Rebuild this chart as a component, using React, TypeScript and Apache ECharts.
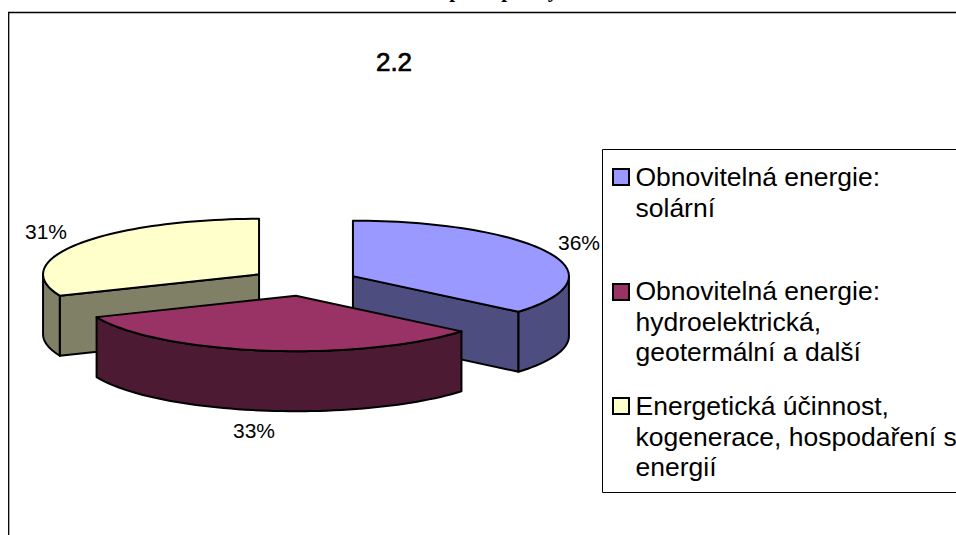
import React, { useEffect, useRef } from "react";
import * as echarts from "echarts";

const categories = [
  "Obnovitelná energie:\nsolární",
  "Obnovitelná energie:\nhydroelektrická,\ngeotermální a další",
  "Energetická účinnost,\nkogenerace, hospodaření s\nenergií",
];
const values = [36.1, 32.6, 31.3];
const topColors = ["#9999FF", "#993366", "#FFFFCC"];
const sideColors = ["#4D4D80", "#4D1A33", "#808066"];
const drawOrder = [1, 3, 2];
const labelPositions = [
  [579, 242],
  [254, 430],
  [46, 231],
];
const chartTitle = "2.2";
const clippedGlyphs = ["p", "p", "y"];
const clippedGlyphX = [455, 507, 553];

const FONT = "'Liberation Sans', Arial, sans-serif";
const CX = 304;
const CY = 282;
const RX = 216;
const RY = 55.5;
const DEPTH = 60;
const EXPLODE = 0.25;

function pt(cx: number, cy: number, deg: number): [number, number] {
  const r = (deg * Math.PI) / 180;
  return [cx + RX * Math.sin(r), cy - RY * Math.cos(r)];
}

function arcPath(cx: number, cy: number, a0: number, a1: number, reverse = false) {
  const steps = Math.max(2, Math.ceil(Math.abs(a1 - a0) / 2));
  const pts: [number, number][] = [];
  for (let i = 0; i <= steps; i++) pts.push(pt(cx, cy, a0 + ((a1 - a0) * i) / steps));
  if (reverse) pts.reverse();
  return pts;
}

function toD(pts: [number, number][]) {
  return pts.map((p, i) => (i ? "L" : "M") + p[0].toFixed(2) + " " + p[1].toFixed(2)).join(" ") + " Z";
}

const lineStyle = { stroke: "#000", lineWidth: 2, lineJoin: "round" as const };

export default function App() {
  const ref = useRef<HTMLDivElement>(null);
  useEffect(() => {
    const chart = echarts.init(ref.current!, undefined, { renderer: "svg" });
    const total = values.reduce((a, b) => a + b, 0);
    const starts: number[] = [];
    values.reduce((acc, v, i) => {
      starts[i] = acc;
      return acc + (v / total) * 360;
    }, 0);

    chart.setOption({
      animation: false,
      backgroundColor: "#fff",
      legend: { show: false },
      series: [
        {
          type: "custom",
          coordinateSystem: "none",
          silent: true,
          data: values.map((v, i) => ({ name: categories[i], value: v })),
          renderItem: (params: any, api: any) => {
            const i = params.dataIndex;
            const a0 = starts[i];
            const a1 = a0 + (api.value(0) / total) * 360;
            const mid = (((a0 + a1) / 2) * Math.PI) / 180;
            const cx = CX + EXPLODE * RX * Math.sin(mid);
            const cy = CY - EXPLODE * RY * Math.cos(mid);
            const children: any[] = [];
            const side = { ...lineStyle, fill: sideColors[i] };
            const z2 = drawOrder[i] * 10;
            const add = (pts: [number, number][], style: any, z: number) =>
              children.push({ type: "path", shape: { pathData: toD(pts) }, style, z2: z2 + z });

            [a0, a1].forEach((a, k) => {
              const n = ((a % 360) + 360) % 360;
              const facing = k === 0 ? n > 180 && n < 360 : n > 0 && n < 180;
              if (facing) {
                const p = pt(cx, cy, a);
                add(
                  [[cx, cy], p, [p[0], p[1] + DEPTH], [cx, cy + DEPTH]],
                  side,
                  1,
                );
              }
            });
            const f0 = Math.max(a0, 90);
            const f1 = Math.min(a1, 270);
            if (f1 > f0) {
              const upper = arcPath(cx, cy, f0, f1);
              const lower = arcPath(cx, cy + DEPTH, f0, f1, true);
              add([...upper, ...lower], side, 2);
            }
            add([[cx, cy], ...arcPath(cx, cy, a0, a1)], { ...lineStyle, fill: topColors[i] }, 3);
            return { type: "group", children };
          },
        },
      ],
      graphic: {
        elements: [
          ...clippedGlyphs.map((g, i) => ({
            type: "text",
            x: clippedGlyphX[i],
            y: -21,
            style: {
              text: g,
              font: "bold 21px 'Liberation Serif', serif",
              fill: "#000",
              textAlign: "center",
              textVerticalAlign: "top",
            },
          })),
          {
            type: "polyline",
            z: 0,
            shape: { points: [[8.7, 540], [8.7, 12.5], [960, 12.5]] },
            style: { stroke: "#000", lineWidth: 1.3, fill: "none" },
          },
          {
            type: "text",
            x: 394,
            y: 62,
            style: {
              text: chartTitle,
              font: "26px " + FONT,
              fill: "#000",
              stroke: "#000",
              lineWidth: 0.7,
              textAlign: "center",
              textVerticalAlign: "middle",
            },
          },
          {
            type: "rect",
            z: 5,
            shape: { x: 602.5, y: 149.5, width: 360, height: 343 },
            style: { fill: "#fff", stroke: "#000", lineWidth: 1 },
          },
          ...values.map((v, i) => ({
            type: "text",
            z: 6,
            x: labelPositions[i][0],
            y: labelPositions[i][1],
            style: {
              text: Math.round(v) + "%",
              font: "21px " + FONT,
              fill: "#000",
              textAlign: "center",
              textVerticalAlign: "middle",
            },
          })),
          ...categories.map((t, i) => ({
            type: "rect",
            z: 6,
            shape: { x: 613, y: [169, 284, 398][i], width: 16, height: 16 },
            style: { fill: topColors[i], stroke: "#000", lineWidth: 2 },
          })),
          ...categories.map((t, i) => ({
            type: "text",
            z: 6,
            x: 635.5,
            y: [162, 276, 391][i],
            style: { text: t, font: "26.5px " + FONT, lineHeight: 30.5, fill: "#000", textAlign: "left", textVerticalAlign: "top" },
          })),
        ],
      },
    });
    return () => chart.dispose();
  }, []);
  return <div ref={ref} style={{ position: "fixed", left: 0, top: 0, width: 956, height: 535 }} />;
}
